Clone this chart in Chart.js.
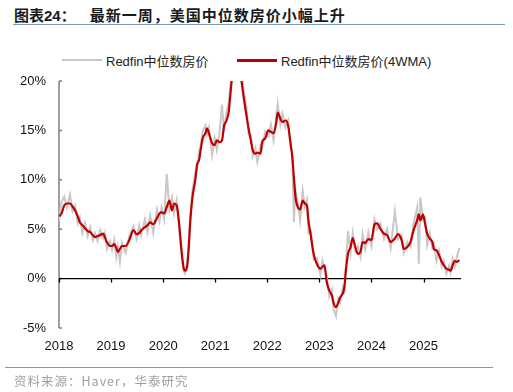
<!DOCTYPE html>
<html>
<head>
<meta charset="utf-8">
<script src="https://cdn.jsdelivr.net/npm/chart.js@4"></script>
<style>
    body { margin: 0; background: #fff; }
    .app { position: relative; width: 513px; height: 392px; overflow: hidden; font-family: "Liberation Sans", Arial, "Noto Sans CJK SC", sans-serif; }
    .title { position: absolute; left: 14px; top: 4px; font-size: 15px; font-weight: bold; color: #1a1a1a; white-space: nowrap; font-family: "Liberation Sans", "Noto Sans CJK SC", sans-serif; }
    .title .main { margin-left: 14px; letter-spacing: 1px; }
    .rule { position: absolute; height: 1px; background: #7b98bd; }
    .legend { position: absolute; top: 51px; font-size: 13px; color: #222; white-space: nowrap; font-family: "Liberation Sans", "Noto Sans CJK SC", sans-serif; }
    .legend .swatch { position: absolute; top: 8px; height: 2px; }
    .source { position: absolute; left: 14px; top: 371px; font-size: 12.5px; color: #a0a0a0; letter-spacing: 1px; white-space: nowrap; font-family: "Noto Sans CJK SC", sans-serif; }
    #barChart { position: absolute; left: 0; top: 0; }
</style>
</head>
<body>
<div class="app">
    <div class="title">图表24：<span class="main">最新一周，美国中位数房价小幅上升</span></div>
    <div class="rule" style="left:13px; width:492px; top:24px;"></div>

    <div class="legend" style="left:62px;"><span class="swatch" style="left:0; width:40px; background:#c8c8c8;"></span><span style="margin-left:44px;">Redfin中位数房价</span></div>
    <div class="legend" style="left:237px;"><span class="swatch" style="left:0; width:40px; background:#c00000; height:2.5px;"></span><span style="margin-left:44px;">Redfin中位数房价(4WMA)</span></div>

    <canvas id="barChart" width="513" height="392"></canvas>

    <div class="rule" style="left:5px; width:488px; top:367px;"></div>
    <div class="source">资料来源：Haver，华泰研究</div>
</div>

<script>
// dates as decimal years, values in % yoy
const wmaDates = [
    2018.00, 2018.05, 2018.10, 2018.15, 2018.21, 2018.26, 2018.31, 2018.36, 2018.40, 2018.45,
    2018.50, 2018.55, 2018.60, 2018.65, 2018.69, 2018.74, 2018.79, 2018.85, 2018.88, 2018.92,
    2018.98, 2019.02, 2019.06, 2019.10, 2019.13, 2019.17, 2019.21, 2019.28, 2019.35, 2019.43,
    2019.49, 2019.54, 2019.58, 2019.65, 2019.70, 2019.75, 2019.81, 2019.88, 2019.93, 2019.97,
    2020.02, 2020.07, 2020.12, 2020.17, 2020.21, 2020.26, 2020.31, 2020.35, 2020.39, 2020.42,
    2020.46, 2020.49, 2020.52, 2020.56, 2020.62, 2020.65, 2020.69, 2020.72, 2020.76, 2020.81,
    2020.84, 2020.88, 2020.94, 2020.99, 2021.03, 2021.08, 2021.13, 2021.17, 2021.21, 2021.26,
    2021.29, 2021.32, 2021.36, 2021.41, 2021.46, 2021.50, 2021.54, 2021.60, 2021.64, 2021.69,
    2021.72, 2021.77, 2021.81, 2021.87, 2021.90, 2021.96, 2022.02, 2022.07, 2022.12, 2022.17,
    2022.20, 2022.25, 2022.29, 2022.35, 2022.40, 2022.44, 2022.48, 2022.51, 2022.54, 2022.58,
    2022.63, 2022.68, 2022.72, 2022.76, 2022.79, 2022.84, 2022.89, 2022.95, 2023.02, 2023.06,
    2023.10, 2023.14, 2023.19, 2023.24, 2023.27, 2023.32, 2023.36, 2023.40, 2023.45, 2023.48,
    2023.51, 2023.55, 2023.60, 2023.64, 2023.69, 2023.74, 2023.79, 2023.83, 2023.88, 2023.94,
    2024.00, 2024.06, 2024.11, 2024.17, 2024.24, 2024.30, 2024.37, 2024.45, 2024.51, 2024.58,
    2024.62, 2024.69, 2024.75, 2024.81, 2024.88, 2024.91, 2024.94, 2024.99, 2025.03, 2025.07,
    2025.12, 2025.17, 2025.20, 2025.25, 2025.30, 2025.35, 2025.39, 2025.44, 2025.49, 2025.52,
    2025.56, 2025.60, 2025.64, 2025.69
];

const wmaValues = [
    6.3, 6.6, 7.4, 7.6, 7.6, 7.3, 6.9, 6.3, 5.7, 5.4,
    5.1, 4.8, 4.7, 4.4, 4.2, 4.3, 4.4, 4.55, 4.2, 3.7,
    3.3, 3.3, 3.5, 3.1, 2.7, 3.0, 3.3, 3.3, 3.9, 4.9,
    4.5, 4.6, 4.9, 5.2, 5.4, 5.7, 5.5, 6.1, 6.6, 6.7,
    6.6, 7.25, 7.9, 6.9, 7.6, 7.4, 5.4, 3.0, 1.2, 0.8,
    1.2, 3.0, 5.7, 8.1, 10.1, 11.5, 12.0, 13.0, 14.2, 14.7,
    15.2, 14.7, 13.7, 13.5, 14.0, 13.8, 14.0, 15.5, 15.9, 16.9,
    18.6, 20.2, 21.5, 22.3, 21.5, 20.2, 18.6, 16.5, 15.2, 13.8,
    13.0, 12.65, 12.75, 12.65, 13.8, 14.2, 15.0, 14.85, 14.7, 15.7,
    16.8, 16.2, 15.85, 16.0, 15.5, 14.0, 12.3, 10.3, 8.3, 7.3,
    7.0, 7.9, 7.6, 7.4, 5.9, 4.2, 2.5, 1.5, 1.0, 1.2,
    1.35, -0.3, -1.2, -1.7, -2.4, -2.9, -2.5, -1.9, -1.5, -0.85,
    0.85, 2.5, 3.2, 4.1, 3.2, 2.5, 2.7, 3.7, 3.6, 4.0,
    3.9, 5.5, 5.6, 5.05, 4.55, 4.4, 3.7, 4.05, 4.5, 3.9,
    3.0, 3.2, 3.7, 4.9, 5.95, 6.5, 5.9, 6.5, 5.55, 4.55,
    4.05, 3.7, 3.0, 2.85, 2.35, 1.7, 1.35, 1.0, 0.9, 0.8,
    1.35, 1.8, 1.7, 1.85
];

// weekly print, read at the same dates
const rawValues = [
    5.8, 7.8, 8.3, 7.2, 8.5, 6.8, 7.4, 5.6, 6.2, 4.6,
    5.6, 4.3, 5.2, 3.9, 4.6, 3.8, 4.9, 4.1, 4.6, 3.0,
    3.8, 2.9, 3.9, 2.2, 3.2, 1.7, 3.6, 2.6, 4.3, 5.3,
    4.0, 5.4, 4.4, 6.0, 4.7, 6.4, 4.6, 7.0, 5.8, 7.2,
    6.0, 10.6, 7.0, 8.2, 6.6, 7.9, 4.8, 2.5, 0.8, 0.5,
    1.6, 3.6, 6.4, 8.8, 10.8, 11.0, 12.8, 13.6, 14.9, 15.5,
    14.5, 15.3, 12.5, 14.2, 13.0, 14.6, 17.6, 14.8, 16.8, 17.8,
    19.5, 21.0, 22.0, 23.0, 22.2, 21.0, 19.3, 17.4, 14.6, 14.5,
    12.4, 13.2, 11.8, 13.4, 13.2, 14.9, 14.4, 15.6, 14.0, 16.3,
    17.7, 15.6, 16.7, 15.3, 16.0, 13.4, 12.8, 5.7, 9.0, 8.0,
    5.9, 8.9, 7.3, 8.0, 4.6, 4.8, 1.9, 2.1, 0.4, 1.8,
    0.9, 0.3, -1.8, -1.1, -3.1, -3.8, -2.0, -2.4, -0.9, -1.3,
    1.5, 4.8, 2.6, 4.6, 2.8, 3.3, 2.2, 4.5, 3.0, 4.7,
    3.3, 6.0, 5.0, 5.6, 4.0, 5.0, 3.1, 6.8, 4.0, 4.4,
    2.6, 3.7, 3.2, 5.6, 7.2, 1.5, 8.2, 6.0, 6.2, 3.4,
    4.6, 3.1, 3.5, 1.8, 2.8, 1.2, 1.8, 0.5, 1.3, 0.6,
    2.0, 1.2, 2.2, 3.1
];

const yearTicks = [2018, 2019, 2020, 2021, 2022, 2023, 2024, 2025];
const xMin = 2018, xMax = 2025.72;
const yMin = -5, yMax = 20, yStep = 5;

function toPoints(dates, values) {
    return dates.map((d, i) => ({x: d, y: values[i]}));
}

// zero line with year ticks + left axis line
const axisDecor = {
    id: 'axisDecor',
    beforeDatasetsDraw: function (chart) {
        const c = chart.ctx;
        const xs = chart.scales.x;
        const ys = chart.scales.y;
        const area = chart.chartArea;
        const y0 = ys.getPixelForValue(0);

        c.save();
        c.strokeStyle = '#808080';
        c.lineWidth = 1.5;
        c.beginPath();
        c.moveTo(area.left, area.top);
        c.lineTo(area.left, area.bottom);
        for (let v = yMin; v <= yMax; v += yStep) {
            const py = ys.getPixelForValue(v);
            c.moveTo(area.left, py);
            c.lineTo(area.left + 3, py);
        }
        c.stroke();

        c.strokeStyle = '#000';
        c.lineWidth = 1.3;
        c.beginPath();
        c.moveTo(area.left, y0);
        c.lineTo(area.right, y0);
        yearTicks.forEach(yr => {
            const px = Math.round(xs.getPixelForValue(yr)) + 0.5;
            c.moveTo(px, y0);
            c.lineTo(px, y0 + 4);
        });
        c.stroke();
        c.restore();
    }
};

var ctx = document.getElementById("barChart").getContext("2d");

var options = {
    type: 'line',
    data: {
        datasets: [
            {
                label: 'Redfin中位数房价',
                data: toPoints(wmaDates, rawValues),
                borderColor: '#c8c8c8',
                borderWidth: 2,
                pointRadius: 0,
                tension: 0,
                order: 2
            },
            {
                label: 'Redfin中位数房价(4WMA)',
                data: toPoints(wmaDates, wmaValues),
                borderColor: '#c00000',
                borderWidth: 2.2,
                pointRadius: 0,
                cubicInterpolationMode: 'monotone',
                order: 1
            }
        ]
    },
    options: {
        responsive: false,
        animation: false,
        layout: {
            padding: {left: 0, right: 52, top: 81, bottom: 34}
        },
        scales: {
            x: {
                type: 'linear',
                min: xMin,
                max: xMax,
                grid: {display: false, drawTicks: false},
                border: {display: false},
                afterFit: function (scale) {
                    scale.height = 30;
                },
                ticks: {
                    stepSize: 1,
                    includeBounds: false,
                    padding: 11,
                    color: '#111',
                    font: {size: 13, family: '"Liberation Sans", Arial, sans-serif'},
                    maxRotation: 0,
                    autoSkip: false,
                    callback: function (v) {
                        return yearTicks.indexOf(v) >= 0 ? String(v) : '';
                    }
                }
            },
            y: {
                min: yMin,
                max: yMax,
                grid: {display: false, drawTicks: false},
                border: {display: false},
                afterFit: function (scale) {
                    scale.width = 59;
                },
                ticks: {
                    stepSize: yStep,
                    padding: 13,
                    color: '#111',
                    font: {size: 13, family: '"Liberation Sans", Arial, sans-serif'},
                    callback: function (v) {
                        return v + '%';
                    }
                }
            }
        },
        plugins: {
            legend: {display: false},
            tooltip: {enabled: false},
            title: {display: false}
        }
    },
    plugins: [axisDecor]
};

new Chart(ctx, options);
</script>
</body>
</html>
